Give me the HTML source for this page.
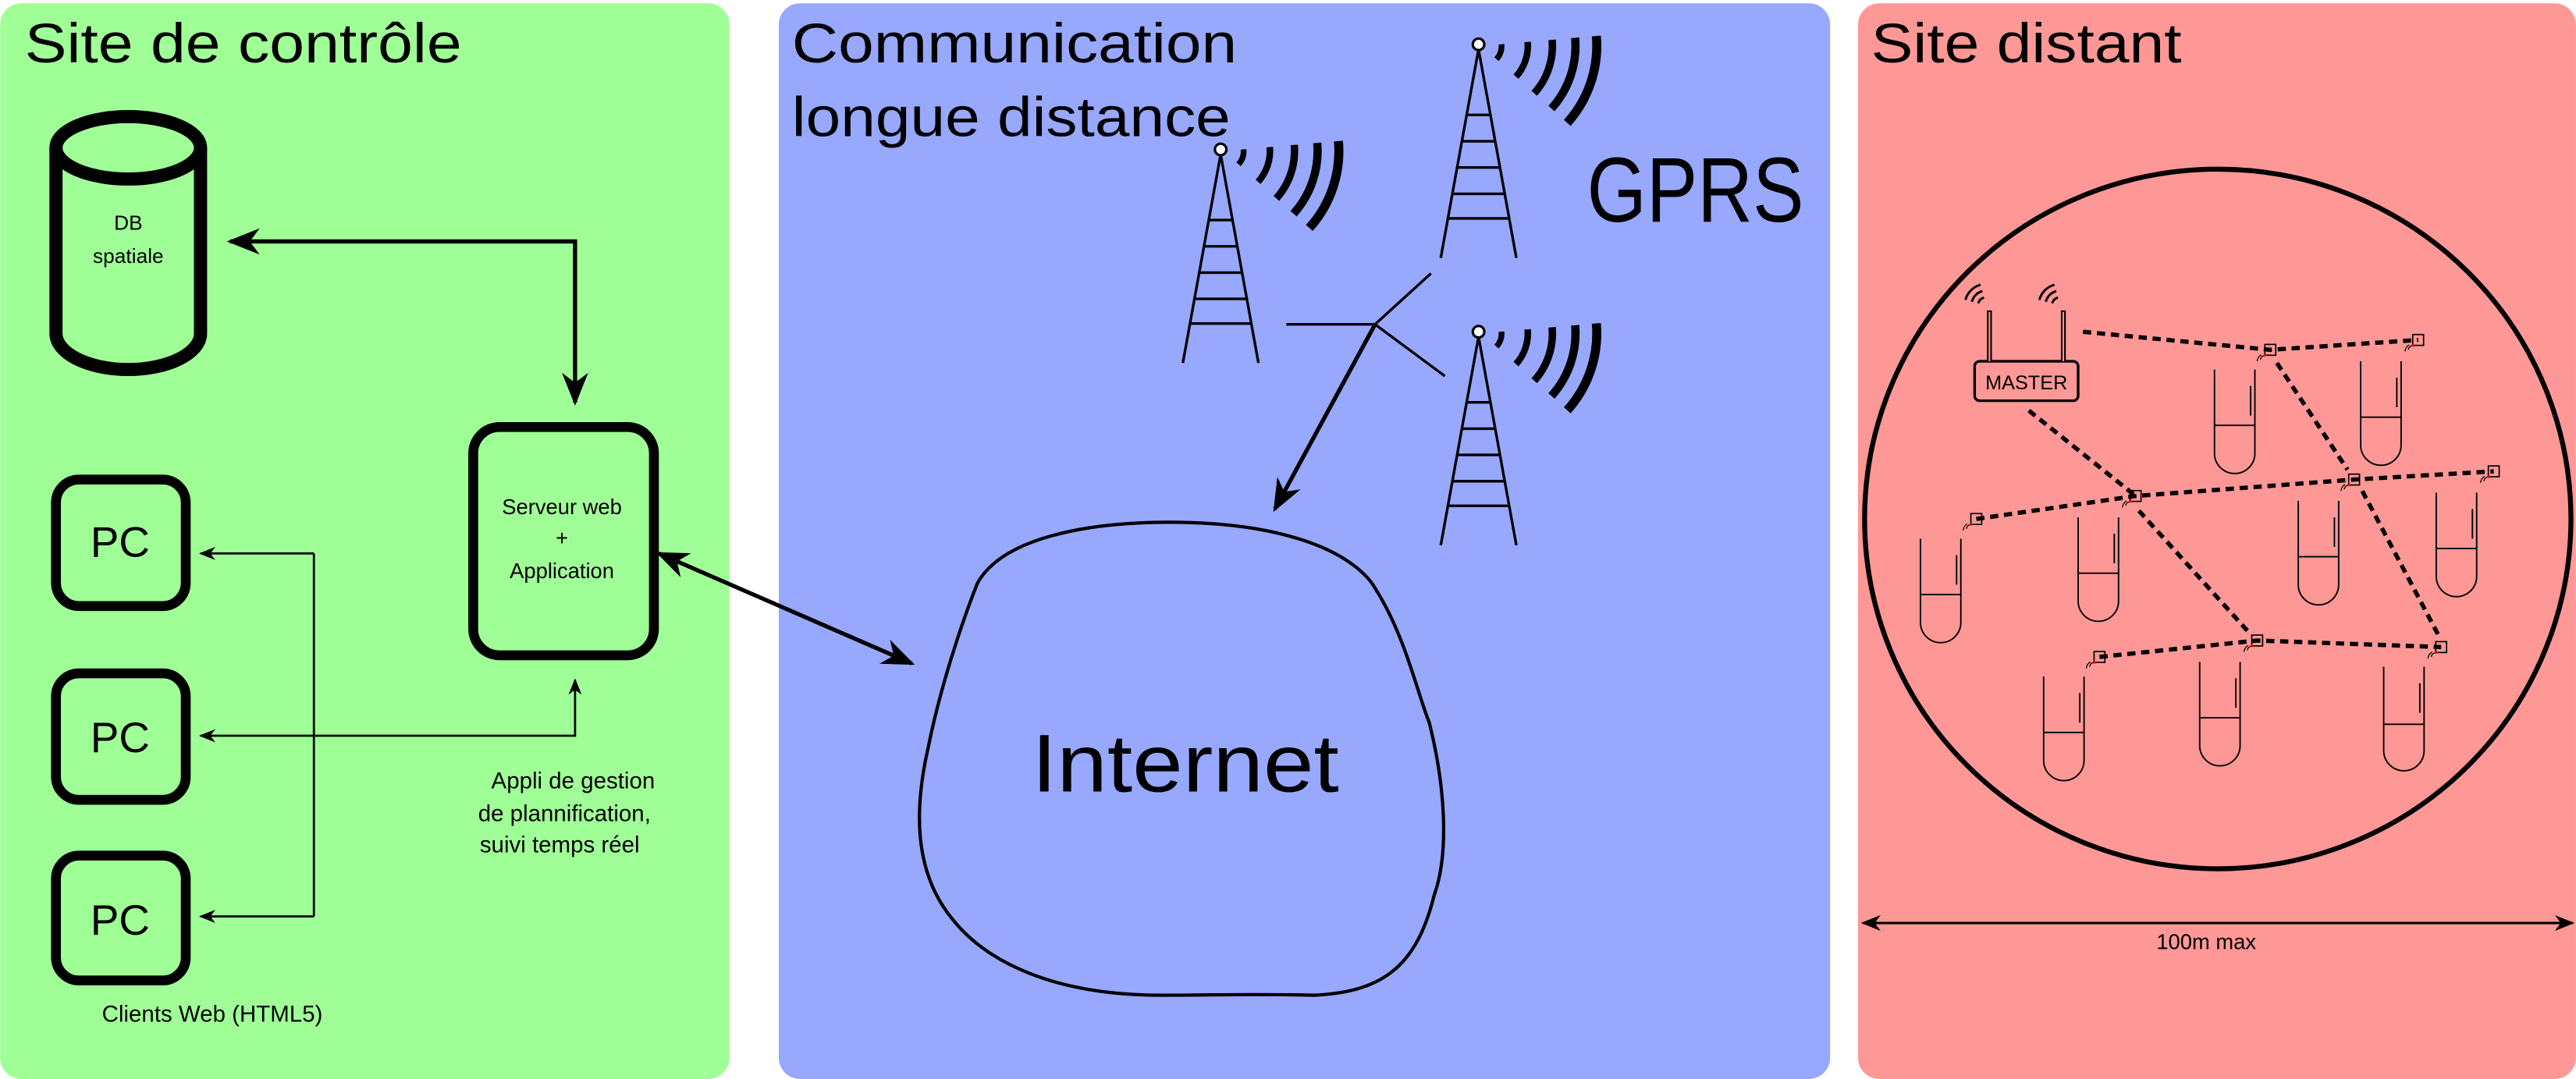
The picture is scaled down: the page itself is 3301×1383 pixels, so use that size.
<!DOCTYPE html>
<html><head><meta charset="utf-8"><style>html,body{margin:0;padding:0;background:#fff}svg{display:block}</style></head>
<body>
<svg width="3301" height="1383" viewBox="0 0 1568 657" xmlns="http://www.w3.org/2000/svg" font-family="'Liberation Sans', 'DejaVu Sans', sans-serif">
<defs>
<marker id="ahB" viewBox="0 0 10 10" refX="9" refY="5" markerWidth="20" markerHeight="20" orient="auto-start-reverse" markerUnits="userSpaceOnUse"><path d="M0,1 L10,5 L0,9 L3,5 Z" fill="#000"/></marker>
<marker id="ahS" viewBox="0 0 10 10" refX="9" refY="5" markerWidth="12" markerHeight="10" orient="auto-start-reverse" markerUnits="userSpaceOnUse"><path d="M0,1 L10,5 L0,9 L3,5 Z" fill="#000"/></marker>
<marker id="ahM" viewBox="0 0 10 10" refX="9" refY="5" markerWidth="12" markerHeight="12" orient="auto-start-reverse" markerUnits="userSpaceOnUse"><path d="M0,1 L10,5 L0,9 L3,5 Z" fill="#000"/></marker>
<g id="tower" fill="none" stroke="#000">
  <path d="M0,3 L-23,130 M0,3 L23,130" stroke-width="1.6"/>
  <path d="M-7.6,43 H7.6 M-10.4,59 H10.4 M-13.3,75 H13.3 M-16.1,91 H16.1 M-18.8,106 H18.8" stroke-width="1.6"/>
  <g transform="translate(2,1)">
   <path d="M11.95,-1.04 A12 12 0 0 1 8.92,8.03" stroke-width="3.5"/>
   <path d="M27.9,-2.44 A28 28 0 0 1 20.8,18.7" stroke-width="4"/>
   <path d="M42.8,-3.75 A43 43 0 0 1 31.9,28.8" stroke-width="4.5"/>
   <path d="M56.8,-4.97 A57 57 0 0 1 42.4,38.1" stroke-width="5"/>
   <path d="M69.7,-6.1 A70 70 0 0 1 52.0,46.8" stroke-width="5.5"/>
  </g>
  <circle cx="0" cy="0" r="3.5" fill="#fff" stroke-width="1.5"/>
</g>
<g id="tube" fill="none" stroke="#000" stroke-width="0.9">
  <path d="M0,0 V51 A12.3 12.3 0 0 0 24.6,51 V0"/>
</g>
<g id="sensor" fill="none">
  <rect x="-3.3" y="-3.3" width="6.6" height="6.6" stroke="#000" stroke-width="0.8"/>
  <path d="M-4,3.5 A3 3 0 0 0 -6,6 M-5.5,3 A5 5 0 0 0 -8,7" stroke="#000" stroke-width="0.6"/>
  <circle cx="-3.3" cy="3.3" r="0.8" fill="#e00"/>
</g>
</defs>

<rect x="0" y="2" width="444" height="655" rx="13" fill="#a0fe97"/>
<rect x="474" y="2" width="640" height="655" rx="13" fill="#97a8fd"/>
<rect x="1131" y="2" width="437" height="655" rx="13" fill="#fe9896"/>

<text x="15" y="38" font-size="34" textLength="266" lengthAdjust="spacingAndGlyphs">Site de contrôle</text>
<text x="482" y="38" font-size="34" textLength="271" lengthAdjust="spacingAndGlyphs">Communication</text>
<text x="482" y="83" font-size="34" textLength="267" lengthAdjust="spacingAndGlyphs">longue distance</text>
<text x="1139" y="38" font-size="34" textLength="189" lengthAdjust="spacingAndGlyphs">Site distant</text>
<text x="966" y="135" font-size="56" textLength="132" lengthAdjust="spacingAndGlyphs">GPRS</text>

<g fill="none" stroke="#000" stroke-width="8">
  <path d="M34,90 V203 A44 22 0 0 0 122,203 V90"/>
  <ellipse cx="78" cy="90" rx="44" ry="19"/>
</g>
<text x="78" y="140" font-size="12.5" text-anchor="middle">DB</text>
<text x="78" y="160" font-size="12.5" text-anchor="middle">spatiale</text>

<path d="M140,147 H350 V245" fill="none" stroke="#000" stroke-width="2.5" marker-start="url(#ahB)" marker-end="url(#ahB)"/>

<rect x="288" y="260" width="110" height="139" rx="16" fill="none" stroke="#000" stroke-width="6"/>
<text x="342" y="313" font-size="13" text-anchor="middle">Serveur web</text>
<text x="342" y="332" font-size="13" text-anchor="middle">+</text>
<text x="342" y="352" font-size="13" text-anchor="middle">Application</text>

<g fill="none" stroke="#000" stroke-width="6">
  <rect x="34" y="292" width="79" height="77" rx="14"/>
  <rect x="34" y="410" width="79" height="77" rx="14"/>
  <rect x="34" y="521" width="79" height="76" rx="14"/>
</g>
<g font-size="26" text-anchor="middle">
  <text x="73" y="339">PC</text>
  <text x="73" y="458">PC</text>
  <text x="73" y="569">PC</text>
</g>

<g fill="none" stroke="#000" stroke-width="1.3">
  <path d="M191,337 V558"/>
  <path d="M191,337 H122" marker-end="url(#ahS)"/>
  <path d="M191,558 H122" marker-end="url(#ahS)"/>
  <path d="M122,448 H350 V414" marker-start="url(#ahS)" marker-end="url(#ahS)"/>
</g>
<g font-size="14">
  <text x="299" y="480">Appli de gestion</text>
  <text x="291" y="500">de plannification,</text>
  <text x="292" y="519">suivi temps réel</text>
  <text x="62" y="622">Clients Web (HTML5)</text>
</g>

<path d="M401,337 L555,404" stroke="#000" stroke-width="2.5" fill="none" marker-start="url(#ahB)" marker-end="url(#ahB)"/>

<path d="M712,318 C780,318 820,335 835,355 C855,385 862,420 870,440 C880,480 882,520 873,545 C862,590 840,604 800,606 C760,605 740,606 707,606 C640,606 600,585 580,560 C555,530 557,490 565,455 C572,420 585,380 595,355 C610,328 660,318 712,318 Z" fill="none" stroke="#000" stroke-width="2"/>
<text x="628" y="482" font-size="50" textLength="187" lengthAdjust="spacingAndGlyphs">Internet</text>

<use href="#tower" x="743" y="91"/>
<use href="#tower" x="900" y="27"/>
<use href="#tower" x="900" y="202"/>
<g fill="none" stroke="#000" stroke-width="1.6">
  <path d="M783,197.5 H837 L871,166.5 M837,197.5 L879.5,229"/>
</g>
<path d="M837,197.5 L776,310" stroke="#000" stroke-width="2.5" fill="none" marker-end="url(#ahB)"/>

<ellipse cx="1350" cy="316" rx="215" ry="213" fill="none" stroke="#000" stroke-width="3"/>

<g fill="none" stroke="#000" stroke-width="2.6" stroke-dasharray="5,3.5">
  <path d="M1268,202 L1382,213 L1472,207"/>
  <path d="M1235,250 L1300,302"/>
  <path d="M1203,316 L1300,302 L1433,292 L1518,287"/>
  <path d="M1386,221 L1429,286"/>
  <path d="M1302,311 L1368,384"/>
  <path d="M1438,299 L1485,388"/>
  <path d="M1278,400 L1374,390 L1486,394"/>
</g>

<g fill="none" stroke="#000">
  <rect x="1202" y="220" width="63" height="24" rx="3" stroke-width="1.6" fill="#fe9896"/>
  <path d="M1211,220 V189 M1256,220 V189" stroke-width="3"/>
  <path d="M1211,190 V220 M1256,190 V220" stroke="#fe9896" stroke-width="1"/>
  <g stroke-width="1.4">
   <path d="M1204.2,184.7 A5 5 0 0 1 1207.7,181.2 M1200.3,183.7 A9 9 0 0 1 1206.7,177.3 M1196.4,182.6 A13 13 0 0 1 1205.6,173.4"/>
   <path d="M1249.2,184.7 A5 5 0 0 1 1252.7,181.2 M1245.3,183.7 A9 9 0 0 1 1251.7,177.3 M1241.4,182.6 A13 13 0 0 1 1250.6,173.4"/>
  </g>
</g>
<text x="1233.5" y="237" font-size="12" text-anchor="middle">MASTER</text>

<use href="#sensor" x="1382" y="213"/>
<use href="#sensor" x="1472" y="207"/>
<use href="#sensor" x="1300" y="302"/>
<use href="#sensor" x="1433" y="292"/>
<use href="#sensor" x="1518" y="287"/>
<use href="#sensor" x="1203" y="316"/>
<use href="#sensor" x="1374" y="390"/>
<use href="#sensor" x="1278" y="400"/>
<use href="#sensor" x="1486" y="394"/>

<g>
  <use href="#tube" x="1348" y="225"/><path d="M1348,259 H1373 M1370,235 V253" stroke="#000" stroke-width="0.9"/>
  <use href="#tube" x="1437" y="220"/><path d="M1437,254 H1462 M1459,230 V248" stroke="#000" stroke-width="0.9"/>
  <use href="#tube" x="1169" y="328"/><path d="M1169,362 H1194 M1191,338 V356" stroke="#000" stroke-width="0.9"/>
  <use href="#tube" x="1265" y="315"/><path d="M1265,349 H1290 M1287,325 V343" stroke="#000" stroke-width="0.9"/>
  <use href="#tube" x="1399" y="305"/><path d="M1399,339 H1424 M1421,315 V333" stroke="#000" stroke-width="0.9"/>
  <use href="#tube" x="1483" y="300"/><path d="M1483,334 H1508 M1505,310 V328" stroke="#000" stroke-width="0.9"/>
  <use href="#tube" x="1244" y="412"/><path d="M1244,446 H1269 M1266,422 V440" stroke="#000" stroke-width="0.9"/>
  <use href="#tube" x="1339" y="403"/><path d="M1339,437 H1364 M1361,413 V431" stroke="#000" stroke-width="0.9"/>
  <use href="#tube" x="1451" y="406"/><path d="M1451,441 H1476 M1473,416 V434" stroke="#000" stroke-width="0.9"/>
</g>

<path d="M1134,562 H1566" stroke="#000" stroke-width="1.5" fill="none" marker-start="url(#ahM)" marker-end="url(#ahM)"/>
<text x="1343" y="578" font-size="13" text-anchor="middle">100m max</text>
</svg>
</body></html>
